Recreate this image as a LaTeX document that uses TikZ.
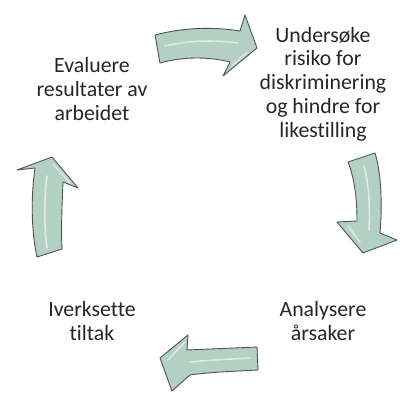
\documentclass[tikz,border=0pt]{standalone}
\usepackage{fontspec}
\setmainfont{Carlito}[Ligatures={NoCommon}]
\definecolor{arrfill}{HTML}{B4CFC3}
\definecolor{arredge}{HTML}{4F5452}
\definecolor{txt}{HTML}{262626}
\begin{document}
\begin{tikzpicture}[x=1pt,y=-1pt,
  cyclearrow/.style={fill=arrfill,draw=arredge,line width=0.9pt,line join=round},
  shine/.style={draw=white,opacity=0.55,line width=1.6pt,line cap=round},
  label/.style={align=center,text=txt,font=\fontsize{21.8}{23.8}\selectfont,inner sep=0pt}]
\useasboundingbox[fill=white] (0,0) rectangle (414,401);
% text
\node[label] (eval) at (92,89) {Evaluere\\resultater av\\arbeidet};
\node[label] (under) at (323,84) {Undersøke\\risiko for\\diskriminering\\og hindre for\\likestilling};
\node[label] (anal) at (323,321) {Analysere\\årsaker};
\node[label] (iverk) at (92,321) {Iverksette\\tiltak};
% top arrow (right)
\draw[cyclearrow] (155,35) .. controls (185,27) and (215,27) .. (240,31) -- (245,15) -- (257,48) -- (223,76) -- (230,62) .. controls (210,57) and (185,56) .. (160,63) -- cycle;
\draw[shine] (165,46) .. controls (190,40) and (215,40) .. (238,43);
\draw[shine] (247,52) -- (232,66);
% right arrow (down)
\draw[cyclearrow] (348,162) -- (375,153) .. controls (382,175) and (382,210) .. (380,233) -- (397,240) -- (363,253) -- (337,222) -- (357,221) .. controls (357,200) and (355,180) .. (348,162) -- cycle;
\draw[shine] (364,166) .. controls (369,185) and (370,205) .. (369,230);
\draw[shine] (348,226) -- (360,242);
% bottom arrow (left)
\draw[cyclearrow] (257,347) -- (258,370) .. controls (240,371) and (210,372) .. (190,375) -- (172,391) -- (160,358) -- (188,335) -- (187,350) .. controls (210,349) and (235,348) .. (257,347) -- cycle;
\draw[shine] (250,358) .. controls (230,359) and (210,360) .. (190,362);
\draw[shine] (168,360) -- (184,343);
% left arrow (up)
\draw[cyclearrow] (37,257) -- (62,249) .. controls (61,230) and (62,205) .. (63,182) -- (78,188) -- (52,157) -- (17,170) -- (35,168) .. controls (31,195) and (31,230) .. (37,257) -- cycle;
\draw[shine] (47,248) .. controls (44,225) and (44,200) .. (47,176);
\draw[shine] (53,164) -- (70,183);
\end{tikzpicture}
\end{document}
